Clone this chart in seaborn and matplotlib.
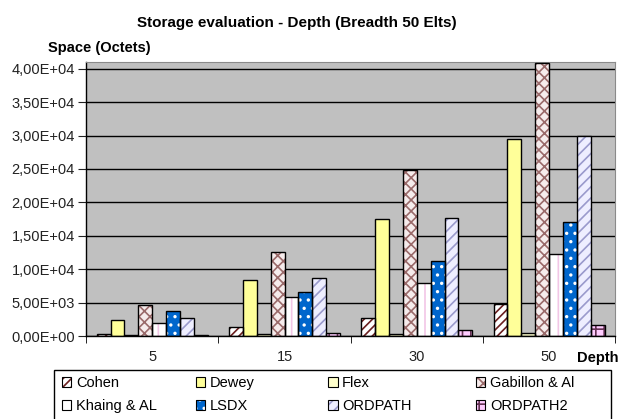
import pandas as pd
import matplotlib
matplotlib.use('Agg')
import matplotlib.pyplot as plt
import matplotlib.patches as mpatches
from matplotlib.legend_handler import HandlerTuple
from matplotlib.ticker import FuncFormatter, MultipleLocator, FixedLocator
import seaborn as sns

# valeurs
depths = ['5', '15', '30', '50']
methods = ['Cohen', 'Dewey', 'Flex', 'Gabillon & Al', 'Khaing & AL', 'LSDX', 'ORDPATH', 'ORDPATH2']
cohen = [300, 1300, 2750, 4800]
dewey = [2400, 8400, 17500, 29500]
flex = [100, 250, 350, 450]
gabillon = [4700, 12600, 24800, 40900]
khaing = [1900, 5850, 7900, 12300]
lsdx = [3700, 6600, 11200, 17100]
ordpath = [2700, 8700, 17700, 29900]
ordpath2 = [100, 450, 900, 1650]

# style de chaque série : (fond, motif, couleur du motif)
styles = {
    'Cohen': ('white', '////', '#6B1F1F'),
    'Dewey': ('#FFFF99', '', '#FFFF99'),
    'Flex': ('#FFFFCC', '', '#FFFFCC'),
    'Gabillon & Al': ('#F6ECEC', 'xxx', '#9A6A6A'),
    'Khaing & AL': ('white', '|', '#F2C6E6'),
    'LSDX': ('#0066CC', '..', 'white'),
    'ORDPATH': ('#EEEEFF', '///', '#9A9ACC'),
    'ORDPATH2': ('#FFCCFF', '++', '#663355'),
}

values = [cohen, dewey, flex, gabillon, khaing, lsdx, ordpath, ordpath2]
rows = []
for m, vals in zip(methods, values):
    for d, v in zip(depths, vals):
        rows.append({'depth': d, 'method': m, 'value': v})
df = pd.DataFrame(rows)

plt.rcParams['font.family'] = ['Liberation Sans', 'DejaVu Sans']
plt.rcParams['hatch.linewidth'] = 1.2

fig = plt.figure(figsize=(6.19, 4.19), dpi=100)
ax = fig.add_axes([0.139, 0.198, 0.855, 0.654])

palette = {m: styles[m][0] for m in methods}
sns.barplot(data=df, x='depth', y='value', hue='method', order=depths, hue_order=methods,
            palette=palette, width=0.84, ax=ax, legend=False, saturation=1)

# motifs + contours noirs
for m, cont in zip(methods, ax.containers):
    fc, hatch, hc = styles[m]
    for p in cont.patches:
        p.set_facecolor(fc)
        p.set_hatch(hatch)
        p.set_edgecolor(hc)
        p.set_linewidth(0)
        outline = mpatches.Rectangle(p.get_xy(), p.get_width(), p.get_height(),
                                     fill=False, edgecolor='black', linewidth=1, zorder=3)
        ax.add_patch(outline)

ax.set_facecolor('#C0C0C0')
ax.set_xlim(-0.5, 3.5)
ax.set_ylim(0, 41000)
ax.yaxis.set_major_locator(MultipleLocator(5000))
ax.yaxis.set_major_formatter(FuncFormatter(lambda v, p: ('%.2E' % v).replace('.', ',')))
ax.grid(axis='y', color='black', linewidth=1)
ax.set_axisbelow(True)
ax.set_xlabel('')
ax.set_ylabel('')

ax.xaxis.set_minor_locator(FixedLocator([-0.5, 0.5, 1.5, 2.5, 3.5]))
ax.tick_params(axis='x', which='major', length=0, pad=10, labelsize=10.5, colors='#222222')
ax.tick_params(axis='x', which='minor', length=5, direction='out', color='black')
ax.tick_params(axis='y', length=6, direction='out', labelsize=10.5, colors='#222222', pad=2)

for s in ['left', 'bottom']:
    ax.spines[s].set_color('black')
    ax.spines[s].set_linewidth(1)
for s in ['top', 'right']:
    ax.spines[s].set_color('#8A8A8A')
    ax.spines[s].set_linewidth(0.8)

fig.text(0.48, 0.945, 'Storage evaluation - Depth (Breadth 50 Elts)', ha='center', va='center',
         fontsize=11, fontweight='bold')
fig.text(0.16, 0.886, 'Space (Octets)', ha='center', va='center', fontsize=10.5, fontweight='bold')
fig.text(0.966, 0.146, 'Depth', ha='center', va='center', fontsize=10.5, fontweight='bold')

# légende : cadre + 4 colonnes de largeur égale
frame = mpatches.Rectangle((0.087, -0.02), 0.9, 0.136, transform=fig.transFigure,
                           fill=False, edgecolor='black', linewidth=1)
fig.patches.append(frame)
col_x = [0.1, 0.316, 0.53, 0.769]
for k in range(4):
    items = [methods[k], methods[k + 4]]
    hs = []
    for m in items:
        fc, hatch, hc = styles[m]
        h1 = mpatches.Patch(facecolor=fc, hatch=hatch, edgecolor=hc, linewidth=0)
        h2 = mpatches.Patch(fill=False, edgecolor='black', linewidth=0.8)
        hs.append((h1, h2))
    lg = fig.legend(hs, items, handler_map={tuple: HandlerTuple(ndivide=1)},
                    loc='upper left', bbox_to_anchor=(col_x[k], 0.103), frameon=False,
                    fontsize=10.5, handlelength=0.65, handleheight=0.65, handletextpad=0.3,
                    borderpad=0, labelspacing=0.62, borderaxespad=0)

fig.savefig('out.png', dpi=100)
